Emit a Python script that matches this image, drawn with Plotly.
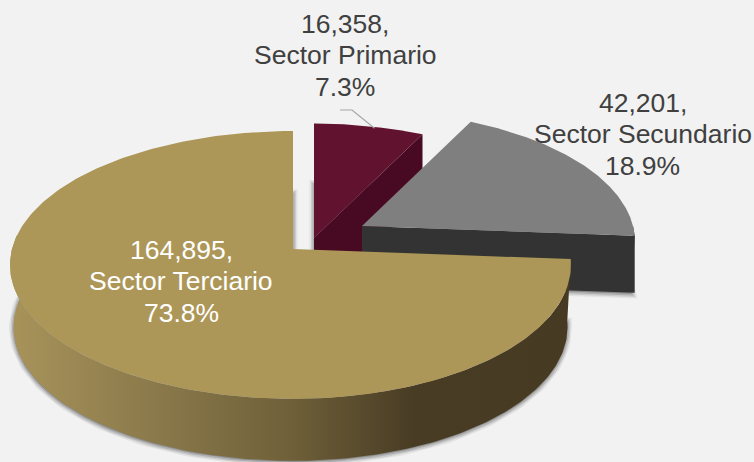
import numpy as np
import plotly.graph_objects as go

# ---- data ----
sectors = ["Sector Primario", "Sector Secundario", "Sector Terciario"]
values = [16358, 42201, 164895]

# ---- styling / layout ----
top_colors = ["#60122f", "#7f7f7f", "#ad9758"]
side_colors = ["#470a22", "#333333", None]
apex_x = [314, 362, 293]
apex_y = [238, 226, 249]
scales_x = [0.98, 0.982, 1.0]
scales_y = [0.97, 0.975, 1.0]
depths = [60, 57, 62]
label_x = [345, 642.5, 181]
label_y = [55, 134, 281]
label_colors = ["#404040", "#404040", "#ffffff"]
LINE_GAP = 31.5
RX_RIGHT, RX_LEFT, RY, K = 276.0, 281.0, 132.0, 0.119
W, H = 754, 462

total = sum(values)
ends = np.cumsum(values) / total * 360.0
starts = np.concatenate([[0.0], ends[:-1]])


def proj(deg, i, dz=0.0):
    a = np.radians(np.asarray(deg, dtype=float))
    u, v = np.sin(a), np.cos(a)
    f = 1 / (1 + K * v)
    rx = np.where(u < 0, RX_LEFT, RX_RIGHT)
    shrink = 1 - 0.012 * dz / 60
    return (apex_x[i] + scales_x[i] * rx * u * f * shrink,
            apex_y[i] - scales_y[i] * RY * v * f + dz)


fig = go.Figure()


def poly(xs, ys, color):
    fig.add_trace(go.Scatter(x=list(xs), y=list(ys), mode="lines", fill="toself",
                             fillcolor=color, line=dict(width=0), hoverinfo="skip",
                             showlegend=False))


for i in range(3):
    arc = np.linspace(starts[i], ends[i], 240)
    d = depths[i]
    # soft shadow of the lower face
    bx, by = proj(arc, i, d)
    bx = np.concatenate([[apex_x[i]], bx, [apex_x[i]]])
    by = np.concatenate([[apex_y[i] + d], by, [apex_y[i] + d]])
    for w, alpha in [(9, 0.10), (6, 0.16), (3, 0.25)]:
        fig.add_trace(go.Scatter(x=bx, y=by + 1, mode="lines", fill="toself",
                                 fillcolor=f"rgba(90,90,90,{alpha})",
                                 line=dict(width=w, color=f"rgba(90,90,90,{alpha})"),
                                 hoverinfo="skip", showlegend=False))
    # outer wall (front part of the rim only)
    lo, hi = max(starts[i], 90.0), min(ends[i], 276.0)
    if hi > lo:
        rim = np.linspace(lo, hi, 240)
        tx, ty = proj(rim, i)
        lx, ly = proj(rim[::-1], i, d)
        xs, ys = np.concatenate([tx, lx]), np.concatenate([ty, ly])
        if side_colors[i] is None:
            fig.add_trace(go.Scatter(
                x=xs, y=ys, mode="lines", fill="toself", line=dict(width=0),
                hoverinfo="skip", showlegend=False,
                fillgradient=dict(type="horizontal", colorscale=[
                    [0.0, "#a8935a"], [0.25, "#8b7a4b"], [0.5, "#6f6039"],
                    [0.72, "#483c24"], [1.0, "#463a22"]])))
        else:
            poly(xs, ys, side_colors[i])
    # cut wall at the end of the slice
    if side_colors[i] is not None:
        ex, ey = proj(ends[i], i)
        ex, ey = float(ex), float(ey)
        poly([apex_x[i], ex, ex, apex_x[i]],
             [apex_y[i], ey, ey + d, apex_y[i] + d], side_colors[i])
    # top face
    tx, ty = proj(arc, i)
    poly(np.concatenate([[apex_x[i]], tx]), np.concatenate([[apex_y[i]], ty]), top_colors[i])

# leader line of the first label
lead_x, lead_y = proj((starts[0] + ends[0]) / 2 + 2, 0)
fig.add_trace(go.Scatter(x=[340, 352, float(lead_x) - 3], y=[110, 110, float(lead_y) + 1], mode="lines",
                         line=dict(color="#a6a6a6", width=1.2), hoverinfo="skip", showlegend=False))

for i in range(3):
    pct = values[i] / total * 100
    lines = [f"{values[i]:,},", sectors[i], f"{pct:.1f}%"]
    for j, line in enumerate(lines):
        fig.add_annotation(x=label_x[i], y=label_y[i] + (j - 1) * LINE_GAP, xref="x", yref="y",
                           showarrow=False, text=line, align="center",
                           font=dict(family="Liberation Sans", size=26.5, color=label_colors[i]))

fig.update_layout(
    width=W, height=H, autosize=False,
    margin=dict(l=0, r=0, t=0, b=0),
    paper_bgcolor="#f2f2f2", plot_bgcolor="#f2f2f2",
    xaxis=dict(range=[0, W], visible=False, fixedrange=True),
    yaxis=dict(range=[H, 0], visible=False, fixedrange=True),
)
fig.write_html("out.html", config={"displayModeBar": False},
               post_script="document.body.style.margin='0';document.body.style.background='#f2f2f2';")
